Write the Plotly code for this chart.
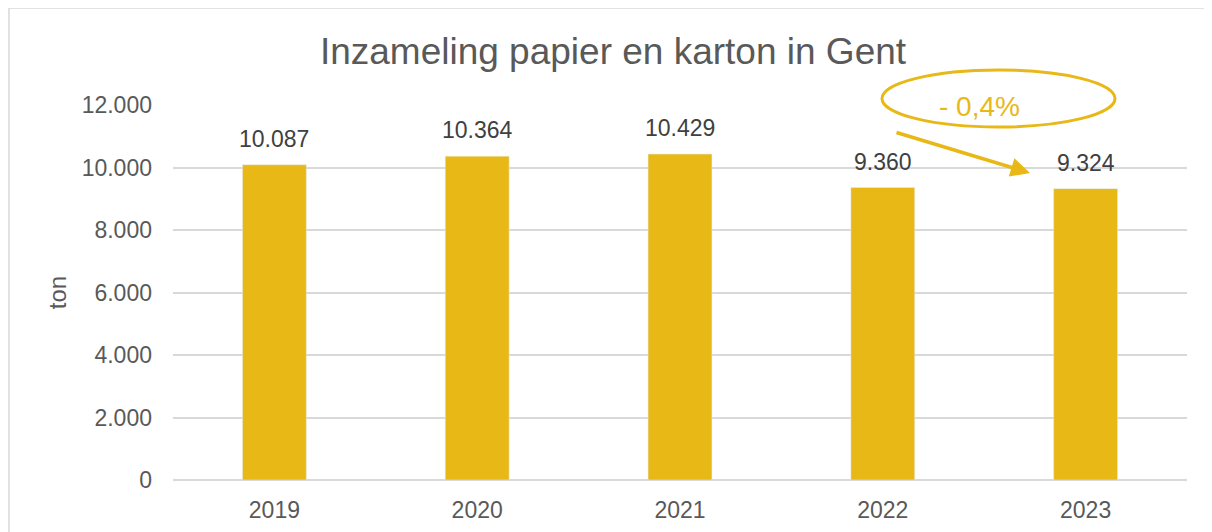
import plotly.graph_objects as go

# data
years = ['2019', '2020', '2021', '2022', '2023']
tonnage = [10087, 10364, 10429, 9360, 9324]
y_ticks = [0, 2000, 4000, 6000, 8000, 10000, 12000]
change_label = '- 0,4%'

GOLD = '#E8B816'
GREY = '#595959'
GRID = '#D9D9D9'
FONT = 'Liberation Sans, Arial, sans-serif'

# page body has an 8px margin, so figure coords = screen coords - 8
OFF = 8
W, H = 1212 - OFF, 532 - OFF
# plot area in screen pixels
PLOT_L, PLOT_R, PLOT_T, PLOT_B = 173, 1187, 105, 480


def px_to_paper(px, py):
    return ((px - PLOT_L) / (PLOT_R - PLOT_L), (PLOT_B - py) / (PLOT_B - PLOT_T))


def nl_thousands(v):
    return f'{v:,}'.replace(',', '.')


fig = go.Figure()
fig.add_trace(go.Bar(x=years, y=tonnage, marker_color=GOLD, width=0.315,
                     hoverinfo='x+y'))

# value labels above each bar (x as category index, since the year strings
# would otherwise be read as numeric positions)
for i, val in enumerate(tonnage):
    fig.add_annotation(x=i, y=val, text=nl_thousands(val), showarrow=False,
                       yanchor='middle', yshift=26,
                       font=dict(family=FONT, size=23, color='#404040'))

# ellipse with percentage change
ex0, ey0 = px_to_paper(882, 127)
ex1, ey1 = px_to_paper(1115, 70)
fig.add_shape(type='circle', xref='paper', yref='paper',
              x0=ex0, y0=ey0, x1=ex1, y1=ey1,
              line=dict(color=GOLD, width=3))
tx, ty = px_to_paper(979, 107)
fig.add_annotation(xref='paper', yref='paper', x=tx, y=ty, text=change_label,
                   xanchor='center', yanchor='middle',
                   showarrow=False, font=dict(family=FONT, size=28, color=GOLD))

# arrow
ax_, ay_ = px_to_paper(1030, 173)
fig.add_annotation(xref='paper', yref='paper', x=ax_, y=ay_, text='',
                   showarrow=True, ax=895 - 1030, ay=132 - 173,
                   arrowcolor=GOLD, arrowwidth=3.5, arrowhead=2, arrowsize=1.1)

# outer chart border
bx0, by0 = px_to_paper(OFF + 1, 8)
bx1, by1 = px_to_paper(1230, 560)
fig.add_shape(type='rect', xref='paper', yref='paper',
              x0=bx0, y0=by1, x1=bx1, y1=by0,
              line=dict(color=GRID, width=1.5))

fig.update_layout(
    width=W, height=H,
    margin=dict(l=PLOT_L - OFF, r=1212 - PLOT_R, t=PLOT_T - OFF, b=H - (PLOT_B - OFF),
                autoexpand=False),
    paper_bgcolor='white', plot_bgcolor='white',
    showlegend=False,
    font=dict(family=FONT, color=GREY, size=18),
    title=dict(text='Inzameling papier en karton in Gent',
               x=(613 - OFF) / W, xanchor='center',
               y=1 - (51 - OFF) / H, yanchor='middle',
               font=dict(family=FONT, size=37, color=GREY)),
    xaxis=dict(type='category', range=[-0.5, 4.5],
               showgrid=False, showline=False, zeroline=False,
               ticks='', ticklabelstandoff=14, automargin=False,
               tickfont=dict(family=FONT, size=23, color=GREY)),
    yaxis=dict(range=[0, 12000], tickvals=y_ticks,
               ticktext=[nl_thousands(v) for v in y_ticks],
               showgrid=True, gridcolor=GRID, gridwidth=1.5,
               zeroline=True, zerolinecolor=GRID, zerolinewidth=1.5,
               showline=False, ticks='', ticklabelstandoff=20, automargin=False,
               tickfont=dict(family=FONT, size=23, color=GREY),
               title=dict(text='ton', standoff=8,
                          font=dict(family=FONT, size=24, color=GREY))),
)

fig.write_html('out.html')
